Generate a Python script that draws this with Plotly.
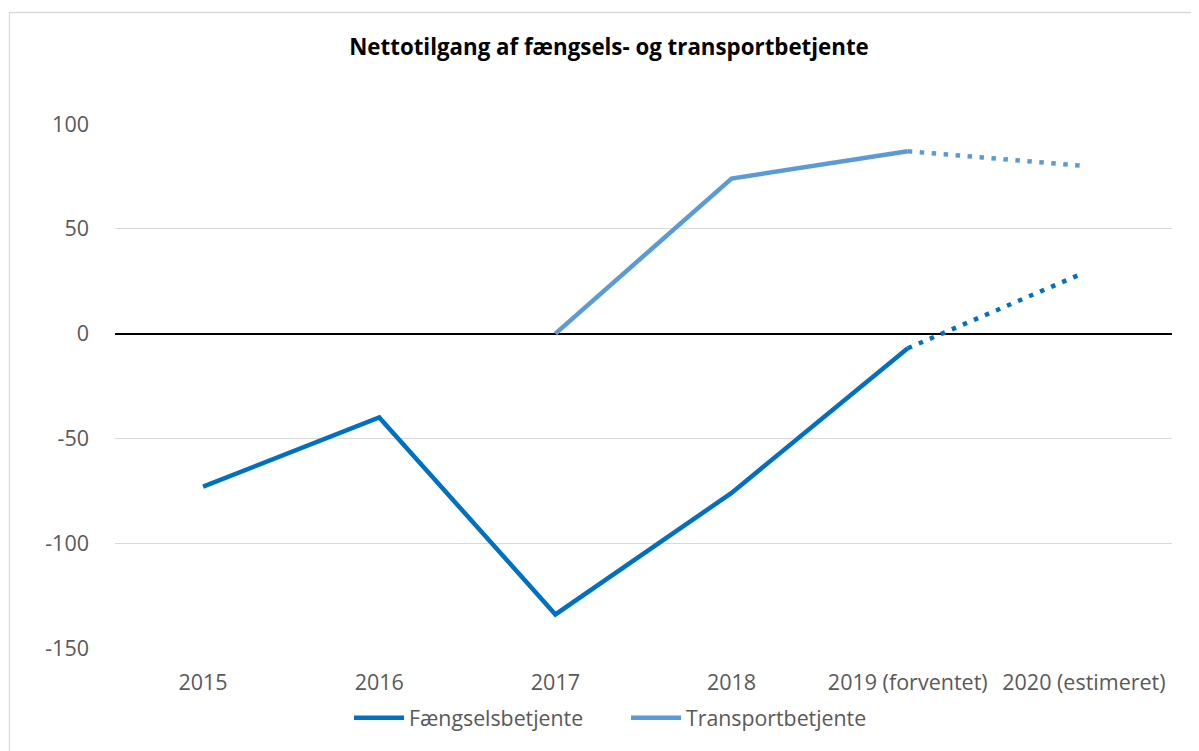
import plotly.graph_objects as go

years = ["2015", "2016", "2017", "2018", "2019 (forventet)", "2020 (estimeret)"]
faengsel = [-73, -40, -134, -76, -7, 29]
transport = [None, None, 0, 74, 87, 80]
series_names = ["Fængselsbetjente", "Transportbetjente"]
colors = ["#0070C0", "#5B9BD5"]
y_ticks = [-150, -100, -50, 0, 50, 100]
y_ticktext = ["-150", "-100", "-50", "0", "50", "100"]

fig = go.Figure()
for name, vals, col in zip(series_names, [faengsel, transport], colors):
    # solid part: actual values up to 2019
    fig.add_trace(go.Scatter(x=years[:5], y=vals[:5], mode="lines", name=name,
                             line=dict(color=col, width=4.5), showlegend=True))
for name, vals, col in zip(series_names, [faengsel, transport], colors):
    # dotted part: estimate 2019 -> 2020
    fig.add_trace(go.Scatter(x=years[4:], y=vals[4:], mode="lines", name=name,
                             line=dict(color=col, width=4.5, dash="4.5px,7.5px"),
                             showlegend=False))

OFF = 8  # page body margin
W, H = 1199 - OFF, 751 - OFF
# plot area in screenshot pixels
X0, X1, Y0, Y1 = 115, 1172, 124, 648
L, R, T, B = X0 - OFF, W - (X1 - OFF), Y0 - OFF, H - (Y1 - OFF)
pw, ph = W - L - R, H - T - B
def px(x): return (x - X0) / pw
def py(y): return (Y1 - y) / ph

FONT = "Open Sans, Lato, sans-serif"
fig.update_layout(
    width=W, height=H,
    margin=dict(l=L, r=R, t=T, b=B, autoexpand=False),
    paper_bgcolor="white", plot_bgcolor="white",
    font=dict(family=FONT, size=21, color="#595959"),
    title=dict(text="<b>Nettotilgang af fængsels- og transportbetjente</b>",
               x=px(609), xanchor="center", xref="paper",
               y=1 - (47 - OFF) / H, yanchor="middle",
               font=dict(family=FONT, size=22.3, color="#000000")),
    xaxis=dict(type="category", range=[-0.5, 5.5], showgrid=False, showline=False,
               ticks="", automargin=False, ticklabelstandoff=19,
               tickfont=dict(size=21.5, color="#595959"), zeroline=False),
    yaxis=dict(range=[-150, 100], tickvals=y_ticks, ticktext=y_ticktext,
               showgrid=True, gridcolor="#D9D9D9", gridwidth=1.3,
               zeroline=True, zerolinecolor="#000000", zerolinewidth=2,
               ticks="", ticklabelstandoff=25, showline=False, automargin=False,
               tickfont=dict(size=21.5, color="#595959")),
    legend=dict(orientation="h", x=px(349), xanchor="left", y=py(718), yanchor="middle",
                font=dict(size=21.3, color="#595959"), itemwidth=50, entrywidth=212),
    shapes=[dict(type="rect", xref="paper", yref="paper",
                 x0=px(9.5), x1=px(1210), y0=py(12.5), y1=py(770),
                 line=dict(color="#D9D9D9", width=1.3), fillcolor="rgba(0,0,0,0)",
                 layer="below")],
)

fig.write_html("out.html")
